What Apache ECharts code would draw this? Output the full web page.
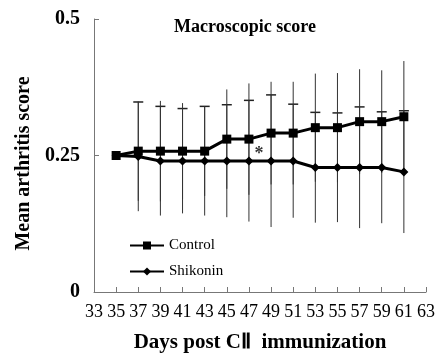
<!DOCTYPE html>
<html>
<head>
<meta charset="utf-8">
<script src="https://cdn.jsdelivr.net/npm/echarts@6/dist/echarts.min.js"></script>
<style>
  html, body { margin: 0; padding: 0; background: #fff; }
  #chart { width: 438px; height: 358px; }
</style>
</head>
<body>
<div id="chart"></div>
<script>
// days post immunization
const days = [35, 37, 39, 41, 43, 45, 47, 49, 51, 53, 55, 57, 59, 61]
// control group mean and SD
const controlMean = [0.25, 0.258, 0.258, 0.258, 0.258, 0.28, 0.28, 0.291, 0.291, 0.301, 0.301, 0.312, 0.312, 0.321]
const controlSd = [0, 0.091, 0.092, 0.088, 0.082, 0.091, 0.102, 0.094, 0.094, 0.099, 0.1, 0.096, 0.094, 0.102]
// shikonin group mean and SD
const shikoninMean = [0.25, 0.248, 0.24, 0.24, 0.24, 0.24, 0.24, 0.24, 0.24, 0.228, 0.228, 0.228, 0.228, 0.22]
const shikoninSd = [0, 0.1, 0.1, 0.096, 0.1, 0.103, 0.111, 0.121, 0.104, 0.101, 0.1, 0.111, 0.102, 0.112]
// significance mark
const star = [48, 0.262]

const serif = '"Liberation Serif", "Times New Roman", serif'

const toPairs = (xs, ys) => xs.map((x, i) => [x, ys[i]])

// error bars: [day, mean, sd]
const errData = (means, sds) => days.map((d, i) => [d, means[i], sds[i]])

const errorBar = (withCap) => function (params, api) {
  const x = api.value(0)
  const m = api.value(1)
  const s = api.value(2)
  if (!s) return
  const top = api.coord([x, m + s])
  const bot = api.coord([x, m - s])
  const children = [{
    type: 'line',
    shape: { x1: top[0], y1: top[1], x2: bot[0], y2: bot[1] },
    style: { stroke: '#333', lineWidth: 1 }
  }]
  if (withCap) {
    children.push({
      type: 'line',
      shape: { x1: top[0] - 5, y1: top[1], x2: top[0] + 5, y2: top[1] },
      style: { stroke: '#222', lineWidth: 1.5 }
    })
  }
  return { type: 'group', children }
}

const myChart = echarts.init(document.getElementById('chart'))

const option = {
  animation: false,
  title: {
    text: 'Macroscopic score',
    left: 240,
    top: 13,
    textAlign: 'center',
    textStyle: { fontFamily: serif, fontSize: 18, fontWeight: 'bold', color: '#000' }
  },
  legend: {
    orient: 'vertical',
    left: 124,
    top: 233,
    itemGap: 11,
    itemWidth: 34,
    itemHeight: 10,
    data: ['Control', 'Shikonin'],
    textStyle: { fontFamily: serif, fontSize: 15, color: '#000' }
  },
  grid: { left: 94, right: 12, top: 19, bottom: 60 },
  xAxis: {
    type: 'value',
    min: 33,
    max: 63,
    interval: 2,
    name: 'Days post CⅡ  immunization',
    nameLocation: 'middle',
    nameGap: 40,
    nameTextStyle: { fontFamily: serif, fontSize: 21, fontWeight: 'bold', color: '#000' },
    axisLine: { lineStyle: { color: '#777', width: 1 } },
    axisTick: { inside: true, length: 5, lineStyle: { color: '#777' } },
    axisLabel: { fontFamily: serif, fontSize: 18, color: '#000', margin: 11 },
    splitLine: { show: false }
  },
  yAxis: {
    type: 'value',
    min: 0,
    max: 0.5,
    interval: 0.25,
    name: 'Mean arthritis score',
    nameLocation: 'middle',
    nameGap: 60,
    nameTextStyle: {
      fontFamily: serif, fontSize: 20, fontWeight: 'bold', color: '#000',
      padding: [0, 16, 0, 0]
    },
    axisLine: { show: true, lineStyle: { color: '#777', width: 1 } },
    axisTick: { show: true, inside: true, length: 5, lineStyle: { color: '#777' } },
    axisLabel: {
      fontFamily: serif, fontSize: 20, fontWeight: 'bold', color: '#000', margin: 14,
      formatter: v => String(v)
    },
    splitLine: { show: false }
  },
  series: [
    {
      name: 'Shikonin SD',
      type: 'custom',
      renderItem: errorBar(true),
      data: errData(shikoninMean, shikoninSd),
      z: 1
    },
    {
      name: 'Control SD',
      type: 'custom',
      renderItem: errorBar(false),
      data: errData(controlMean, controlSd),
      z: 1
    },
    {
      name: 'Control',
      type: 'line',
      data: toPairs(days, controlMean),
      symbol: 'rect',
      symbolSize: 9,
      lineStyle: { color: '#000', width: 3 },
      itemStyle: { color: '#000' },
      z: 3
    },
    {
      name: 'Shikonin',
      type: 'line',
      data: toPairs(days, shikoninMean),
      symbol: 'diamond',
      symbolSize: 9,
      lineStyle: { color: '#000', width: 3 },
      itemStyle: { color: '#000' },
      z: 3
    },
    {
      name: 'star',
      type: 'scatter',
      data: [star],
      symbolSize: 0,
      label: {
        show: true,
        formatter: '*',
        position: 'inside',
        offset: [-1, 5],
        fontFamily: serif,
        fontSize: 18,
        fontWeight: 'bold',
        color: '#000'
      },
      z: 4
    }
  ]
}

myChart.setOption(option)
</script>
</body>
</html>
